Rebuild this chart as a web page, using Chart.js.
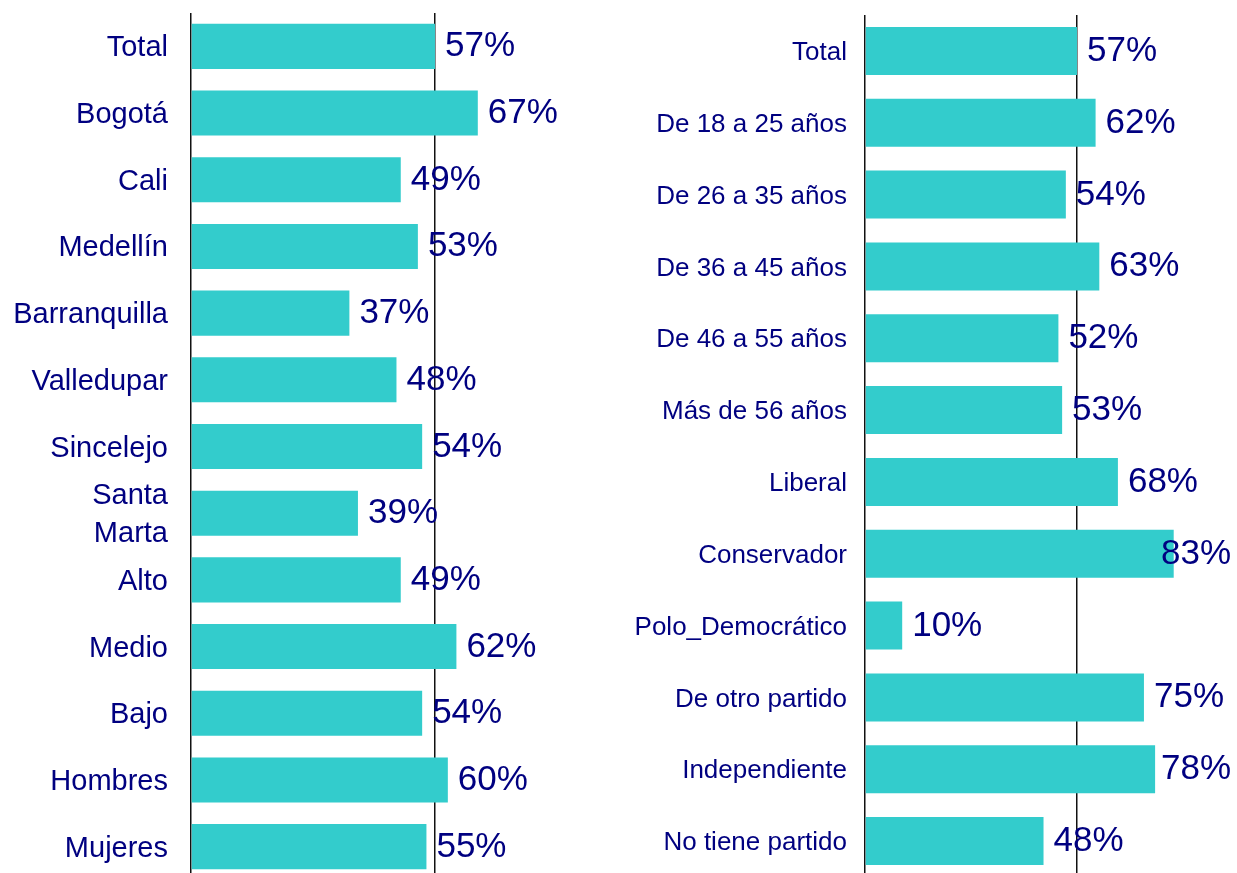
<!DOCTYPE html>
<html>
<head>
<meta charset="utf-8">
<script src="https://cdn.jsdelivr.net/npm/chart.js@4"></script>
<style>
  html, body { margin:0; padding:0; background:#fff; overflow:hidden; width:1237px; height:873px; }
  canvas { position:absolute; top:0; }
</style>
</head>
<body>
<canvas id="cL" width="600" height="880" style="left:0px;width:600px;height:880px"></canvas>
<canvas id="cR" width="637" height="877" style="left:600px;width:637px;height:877px"></canvas>
<script>
// ---- data ----
const categoriesLeft = ['Total','Bogotá','Cali','Medellín','Barranquilla','Valledupar','Sincelejo',['Santa','Marta'],'Alto','Medio','Bajo','Hombres','Mujeres'];
const valuesLeft = [57,67,49,53,37,48,54,39,49,62,54,60,55];
const categoriesRight = ['Total','De 18 a 25 años','De 26 a 35 años','De 36 a 45 años','De 46 a 55 años','Más de 56 años','Liberal','Conservador','Polo_Democrático','De otro partido','Independiente','No tiene partido'];
const valuesRight = [57,62,54,63,52,53,68,83,10,75,78,48];

const FONT = "'Liberation Sans', Arial, Helvetica, sans-serif";
const NAVY = '#000080';
const BAR = '#33CCCC';

Chart.defaults.font.family = FONT;
Chart.defaults.color = NAVY;

const valueLabels = {
  id: 'valueLabels',
  afterDatasetsDraw(chart) {
    const ctx = chart.ctx;
    const meta = chart.getDatasetMeta(0);
    const data = chart.data.datasets[0].data;
    ctx.save();
    ctx.font = '35px ' + FONT;
    ctx.fillStyle = NAVY;
    ctx.textAlign = 'left';
    ctx.textBaseline = 'alphabetic';
    meta.data.forEach((bar, i) => {
      const txt = data[i] + '%';
      const w = ctx.measureText(txt).width;
      const x = Math.min(bar.x + 10, chart.width - w - 6);
      ctx.fillText(txt, x, bar.y + 10);
    });
    ctx.restore();
  }
};

function makeChart(id, cats, vals, o) {
  const canvas = document.getElementById(id);
  const W = canvas.width;
  const ppu = (o.refX - o.axisX) / vals[0];
  const padRight = W - (o.axisX - o.left) - o.max * ppu;
  return new Chart(canvas, {
    type: 'bar',
    data: {
      labels: cats,
      datasets: [{
        data: vals,
        backgroundColor: BAR,
        borderWidth: 0,
        barPercentage: o.barPct,
        categoryPercentage: 1
      }]
    },
    options: {
      indexAxis: 'y',
      responsive: false,
      animation: false,
      layout: { padding: { top: o.top, bottom: 0, left: 0, right: padRight } },
      plugins: { legend: { display: false }, tooltip: { enabled: false } },
      scales: {
        x: {
          min: 0, max: o.max,
          position: 'bottom',
          ticks: { display: false },
          border: { display: false },
          grid: { display: true, drawTicks: false, color: '#111111', lineWidth: 1.5 },
          afterBuildTicks: (s) => { s.ticks = [{ value: 0 }, { value: vals[0] }]; },
          afterFit: (s) => { s.height = 0; s.paddingLeft = 0; s.paddingRight = 0; s.paddingTop = 0; s.paddingBottom = 0; }
        },
        y: {
          grid: { display: false, drawTicks: false },
          border: { display: false },
          ticks: {
            color: NAVY,
            padding: o.labelPad,
            labelOffset: 2,
            font: { size: o.labelSize, family: FONT, lineHeight: 1.3 },
            autoSkip: false
          },
          afterFit: (s) => { s.width = o.axisX - o.left; s.paddingTop = 0; s.paddingBottom = 0; s.paddingLeft = 0; s.paddingRight = 0; }
        }
      }
    },
    plugins: [valueLabels]
  });
}

makeChart('cL', categoriesLeft, valuesLeft, {
  left: 0, axisX: 191, refX: 435, max: 80, top: 13, barPct: 0.676, labelSize: 29, labelPad: 23
});
makeChart('cR', categoriesRight, valuesRight, {
  left: 600, axisX: 865, refX: 1077, max: 100, top: 15, barPct: 0.669, labelSize: 26, labelPad: 18
});
</script>
</body>
</html>
